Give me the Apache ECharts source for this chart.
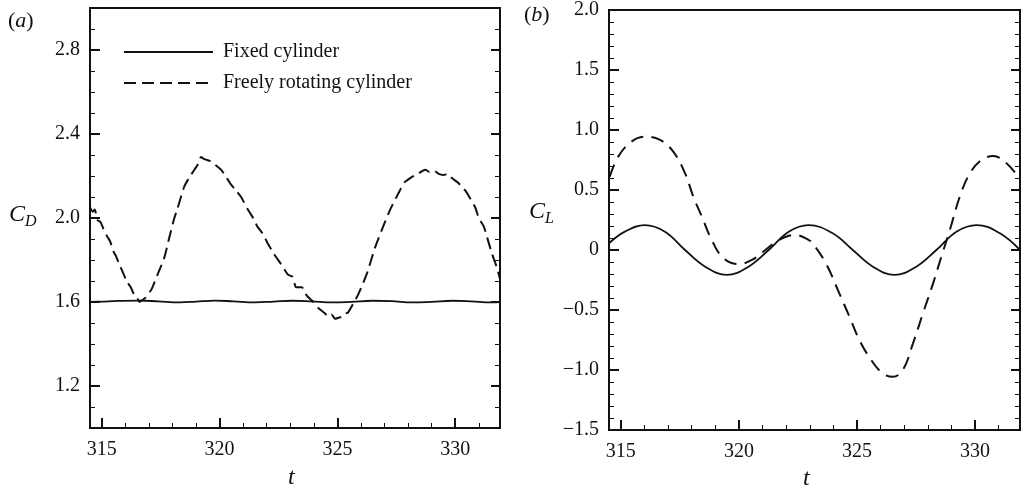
<!DOCTYPE html>
<html>
<head>
<meta charset="utf-8">
<script src="https://cdn.jsdelivr.net/npm/echarts@6/dist/echarts.min.js"></script>
<style>
  html, body { margin: 0; padding: 0; background: #fff; }
  #chart { width: 1024px; height: 491px; }
</style>
</head>
<body>
<div id="chart"></div>
<script>
// time axis ticks (both panels)
const tMajor = [315, 320, 325, 330];
const tMinor = [315, 316, 317, 318, 319, 320, 321, 322, 323, 324, 325, 326, 327, 328, 329, 330, 331];

// panel (a) ticks
const cdMajor = [1.2, 1.6, 2.0, 2.4, 2.8];
const cdMinor = [1.1, 1.2, 1.3, 1.4, 1.5, 1.6, 1.7, 1.8, 1.9, 2.0, 2.1, 2.2, 2.3, 2.4, 2.5, 2.6, 2.7, 2.8, 2.9];

// panel (b) ticks
const clMajor = [-1.5, -1.0, -0.5, 0, 0.5, 1.0, 1.5, 2.0];
const clMinor = [-1.4, -1.3, -1.2, -1.1, -1.0, -0.9, -0.8, -0.7, -0.6, -0.5, -0.4, -0.3, -0.2, -0.1, 0,
  0.1, 0.2, 0.3, 0.4, 0.5, 0.6, 0.7, 0.8, 0.9, 1.0, 1.1, 1.2, 1.3, 1.4, 1.5, 1.6, 1.7, 1.8, 1.9];

// C_D, fixed cylinder
const cdFixed = [
  [314.5, 1.600], [315.0, 1.602], [315.7, 1.605], [316.6, 1.607], [317.4, 1.603], [318.3, 1.598],
  [319.0, 1.602], [319.8, 1.607], [320.6, 1.603], [321.5, 1.598], [322.3, 1.602], [323.1, 1.606],
  [323.9, 1.603], [324.8, 1.598], [325.6, 1.601], [326.5, 1.606], [327.3, 1.604], [328.2, 1.598],
  [329.0, 1.601], [329.9, 1.606], [330.7, 1.603], [331.5, 1.598], [331.9, 1.599]
];

// C_D, freely rotating cylinder
const cdFree = [
  [314.5, 2.05], [314.62, 2.03], [314.7, 2.04], [314.82, 1.99], [314.95, 1.98], [315.1, 1.94],
  [315.24, 1.91], [315.35, 1.89], [315.5, 1.84], [315.6, 1.82], [315.74, 1.78], [315.9, 1.74],
  [316.05, 1.70], [316.23, 1.67], [316.35, 1.64], [316.5, 1.62], [316.6, 1.60], [316.73, 1.61],
  [316.85, 1.62], [316.95, 1.64], [317.05, 1.65], [317.15, 1.67], [317.4, 1.74], [317.65, 1.81],
  [317.85, 1.90], [318.08, 2.00], [318.2, 2.04], [318.5, 2.15], [318.7, 2.19], [318.93, 2.23],
  [319.1, 2.26], [319.21, 2.29], [319.35, 2.28], [319.63, 2.27], [319.85, 2.25], [320.06, 2.23],
  [320.25, 2.20], [320.48, 2.16], [320.7, 2.13], [320.91, 2.10], [321.2, 2.04], [321.48, 1.99],
  [321.6, 1.96], [321.8, 1.93], [322.04, 1.88], [322.3, 1.83], [322.61, 1.78], [322.9, 1.73],
  [323.09, 1.72], [323.25, 1.67], [323.49, 1.67], [323.7, 1.63], [323.98, 1.60], [324.2, 1.57],
  [324.48, 1.545], [324.6, 1.53], [324.75, 1.54], [324.9, 1.52], [325.05, 1.525], [325.19, 1.53],
  [325.35, 1.545], [325.45, 1.55], [325.61, 1.58], [325.9, 1.64], [326.25, 1.735], [326.6, 1.86],
  [326.96, 1.965], [327.24, 2.04], [327.6, 2.12], [327.85, 2.17], [328.09, 2.19], [328.4, 2.21],
  [328.73, 2.23], [328.9, 2.22], [329.1, 2.225], [329.3, 2.21], [329.5, 2.205], [329.7, 2.21],
  [329.86, 2.19], [330.1, 2.17], [330.43, 2.13], [330.6, 2.10], [330.85, 2.05], [331.0, 2.00],
  [331.21, 1.96], [331.4, 1.89], [331.56, 1.83], [331.75, 1.77], [331.9, 1.71]
];

// C_L, fixed cylinder
const clFixed = [
  [314.5, 0.056], [315.17, 0.153], [316.02, 0.208], [316.87, 0.153], [317.72, 0], [318.57, -0.139],
  [319.49, -0.208], [320.41, -0.139], [321.26, 0], [322.11, 0.153], [322.95, 0.208], [323.97, 0.139],
  [324.82, 0], [325.67, -0.139], [326.59, -0.208], [327.51, -0.139], [328.36, 0], [329.21, 0.153],
  [330.06, 0.208], [331.05, 0.139], [331.9, 0.0]
];

// C_L, freely rotating cylinder
const clFree = [
  [314.53, 0.611], [314.89, 0.778], [315.45, 0.903], [316.02, 0.944], [316.66, 0.917], [317.22, 0.82],
  [317.72, 0.639], [318.07, 0.444], [318.43, 0.278], [318.85, 0.083], [319.35, -0.069], [319.99, -0.117],
  [320.55, -0.083], [321.12, 0], [321.69, 0.083], [322.39, 0.125], [322.96, 0.083], [323.12, 0.056],
  [323.68, -0.111], [324.25, -0.361], [324.68, -0.556], [325.1, -0.75], [325.6, -0.917], [326.09, -1.028],
  [326.52, -1.056], [326.94, -1.0], [327.37, -0.778], [327.79, -0.528], [328.22, -0.278], [328.57, -0.056],
  [328.93, 0.167], [329.35, 0.444], [329.78, 0.639], [330.27, 0.75], [330.77, 0.783], [331.33, 0.722],
  [331.9, 0.59]
];

const ink = '#111';
const serif = '"Liberation Serif", "DejaVu Serif", serif';

const chart = echarts.init(document.getElementById('chart'));

function xAxes(gridIndex) {
  return [
    {
      type: 'value', gridIndex, position: 'bottom', min: 314.5, max: 331.9,
      axisLine: { show: false, onZero: false },
      splitLine: { show: false },
      axisTick: { show: true, inside: true, length: 10, customValues: tMajor, lineStyle: { color: ink, width: 2 } },
      axisLabel: { customValues: tMajor, margin: 12, color: ink, fontFamily: serif, fontSize: 20 }
    },
    {
      type: 'value', gridIndex, position: 'bottom', min: 314.5, max: 331.9,
      axisLine: { show: false, onZero: false },
      splitLine: { show: false },
      axisTick: { show: true, inside: true, length: 5, customValues: tMinor, lineStyle: { color: ink, width: 1 } },
      axisLabel: { show: false }
    }
  ];
}

function yAxes(gridIndex, min, max, major, minor, fmt) {
  const base = { type: 'value', gridIndex, min, max, axisLine: { show: false, onZero: false }, splitLine: { show: false } };
  return [
    Object.assign({}, base, {
      position: 'left',
      axisTick: { show: true, inside: true, length: 10, customValues: major, lineStyle: { color: ink, width: 2 } },
      axisLabel: { customValues: major, margin: 10, color: ink, fontFamily: serif, fontSize: 20, formatter: fmt }
    }),
    Object.assign({}, base, {
      position: 'left',
      axisTick: { show: true, inside: true, length: 5, customValues: minor, lineStyle: { color: ink, width: 1 } },
      axisLabel: { show: false }
    }),
    Object.assign({}, base, {
      position: 'right',
      axisTick: { show: true, inside: true, length: 9, customValues: major, lineStyle: { color: ink, width: 2 } },
      axisLabel: { show: false }
    }),
    Object.assign({}, base, {
      position: 'right',
      axisTick: { show: true, inside: true, length: 5, customValues: minor, lineStyle: { color: ink, width: 1 } },
      axisLabel: { show: false }
    })
  ];
}

const fmtCD = v => v.toFixed(1);
const fmtCL = v => Math.abs(v) < 1e-9 ? '0' : (v < 0 ? '\u2212' + Math.abs(v).toFixed(1) : v.toFixed(1));

const option = {
  animation: false,
  backgroundColor: '#fff',
  grid: [
    { left: 90, top: 8, width: 410, height: 420, show: true, borderColor: ink, borderWidth: 2, backgroundColor: 'transparent' },
    { left: 609, top: 10, width: 411, height: 420, show: true, borderColor: ink, borderWidth: 2, backgroundColor: 'transparent' }
  ],
  xAxis: [...xAxes(0), ...xAxes(1)],
  yAxis: [...yAxes(0, 1.0, 3.0, cdMajor, cdMinor, fmtCD), ...yAxes(1, -1.5, 2.0, clMajor, clMinor, fmtCL)],
  legend: {
    data: ['Fixed cylinder', 'Freely rotating cylinder'],
    orient: 'vertical',
    left: 118,
    top: 37,
    itemWidth: 89,
    itemHeight: 14,
    itemGap: 11,
    selectedMode: false,
    itemStyle: { opacity: 0 },
    textStyle: { color: ink, fontFamily: serif, fontSize: 20, padding: [0, 0, 0, 5] }
  },
  graphic: [
    { type: 'text', left: 8, top: 10, style: { text: '{p|(}{i|a}{p|)}', rich: {
      p: { fontFamily: serif, fontSize: 22, fill: ink },
      i: { fontFamily: serif, fontSize: 22, fontStyle: 'italic', fill: ink } } } },
    { type: 'text', left: 524, top: 4, style: { text: '{p|(}{i|b}{p|)}', rich: {
      p: { fontFamily: serif, fontSize: 22, fill: ink },
      i: { fontFamily: serif, fontSize: 22, fontStyle: 'italic', fill: ink } } } },
    { type: 'text', left: 9, top: 203, style: { text: '{c|C}{d|D}', rich: {
      c: { fontFamily: serif, fontSize: 24, fontStyle: 'italic', fill: ink, lineHeight: 30, verticalAlign: 'middle' },
      d: { fontFamily: serif, fontSize: 16, fontStyle: 'italic', fill: ink, lineHeight: 16, verticalAlign: 'bottom' } } } },
    { type: 'text', left: 529, top: 200, style: { text: '{c|C}{d|L}', rich: {
      c: { fontFamily: serif, fontSize: 24, fontStyle: 'italic', fill: ink, lineHeight: 30, verticalAlign: 'middle' },
      d: { fontFamily: serif, fontSize: 16, fontStyle: 'italic', fill: ink, lineHeight: 16, verticalAlign: 'bottom' } } } },
    { type: 'text', left: 288, top: 466, style: { text: 't', fontFamily: serif, fontSize: 24, fontStyle: 'italic', fill: ink } },
    { type: 'text', left: 803, top: 467, style: { text: 't', fontFamily: serif, fontSize: 24, fontStyle: 'italic', fill: ink } }
  ],
  series: [
    {
      name: 'Fixed cylinder', type: 'line', xAxisIndex: 0, yAxisIndex: 0, data: cdFixed,
      symbol: 'none', smooth: 0.4, lineStyle: { color: ink, width: 1.8, type: 'solid' }, itemStyle: { color: ink }
    },
    {
      name: 'Freely rotating cylinder', type: 'line', xAxisIndex: 0, yAxisIndex: 0, data: cdFree,
      symbol: 'none', smooth: 0.2, lineStyle: { color: ink, width: 2, type: [12, 6] }, itemStyle: { color: ink }
    },
    {
      name: 'Fixed cylinder', type: 'line', xAxisIndex: 2, yAxisIndex: 4, data: clFixed,
      symbol: 'none', smooth: 0.4, lineStyle: { color: ink, width: 1.8, type: 'solid' }, itemStyle: { color: ink }
    },
    {
      name: 'Freely rotating cylinder', type: 'line', xAxisIndex: 2, yAxisIndex: 4, data: clFree,
      symbol: 'none', smooth: 0.4, lineStyle: { color: ink, width: 2, type: [13, 8] }, itemStyle: { color: ink }
    }
  ]
};

chart.setOption(option);
</script>
</body>
</html>
